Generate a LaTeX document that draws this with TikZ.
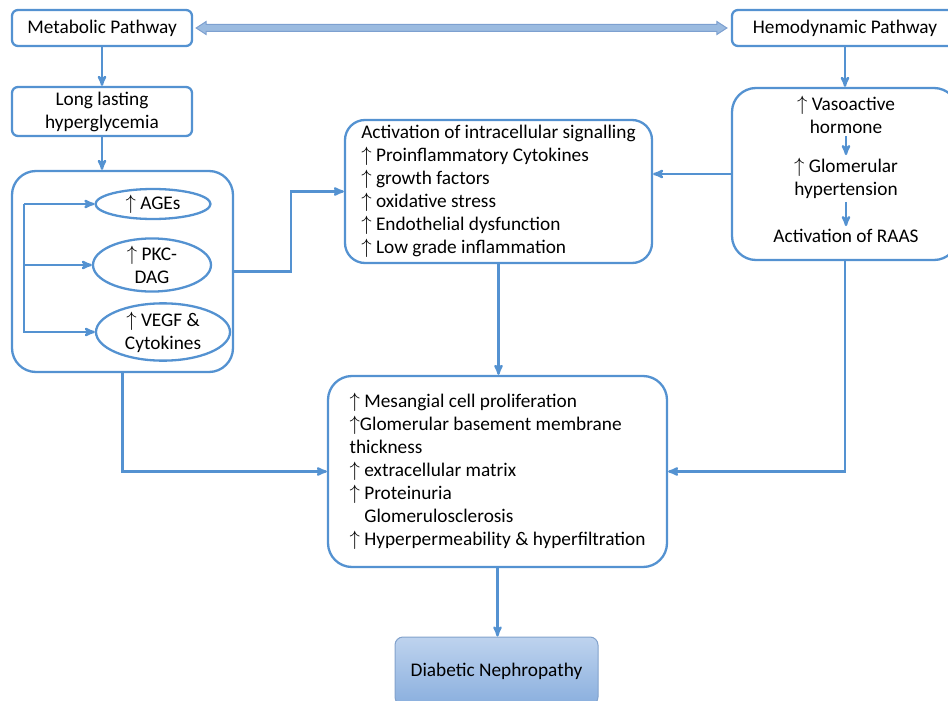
\documentclass[tikz,border=0pt]{standalone}
\usepackage{fontspec}
\setmainfont{Carlito}
\usepackage{tikz}
\usetikzlibrary{shapes,arrows,calc}
\definecolor{flowblue}{RGB}{84,146,209}
\definecolor{arrowfill}{RGB}{155,187,224}
\definecolor{arrowedge}{RGB}{125,160,208}
\definecolor{nephtop}{RGB}{190,211,238}
\definecolor{nephbot}{RGB}{138,175,222}
\definecolor{nephedge}{RGB}{130,162,204}
\newcommand{\incr}{$\uparrow$}

\begin{document}
\begin{tikzpicture}[x=1pt,y=-1pt,->,>=stealth',line width=2.3pt,color=flowblue,text=black,font=\fontsize{19.3}{23}\selectfont]
\tikzstyle{box}=[draw,rounded corners=6pt,align=center,inner sep=0pt]
\tikzstyle{bigbox}=[draw,rounded corners=24pt,inner sep=0pt]
\tikzstyle{oval}=[draw,ellipse,align=center,inner sep=0pt]
\tikzstyle{txt}=[inner sep=2pt,align=center]
\useasboundingbox (0,0) rectangle (948,701);
\node[box,minimum width=180pt,minimum height=36pt] (met) at (102,28) {Metabolic Pathway};
\node[box,minimum width=226pt,minimum height=36pt] (hem) at (845,28) {Hemodynamic Pathway};
\node[box,minimum width=180pt,minimum height=49pt] (long) at (102,111.5) {Long lasting\\hyperglycemia};
\node[bigbox,minimum width=221pt,minimum height=201pt] (mix) at (122.5,271.5) {};
\node[oval,minimum width=115pt,minimum height=30pt] (ages) at (153,204) {\incr\ AGEs};
\node[oval,minimum width=118pt,minimum height=44pt] (pkc) at (152,265) {\incr\ PKC-\\DAG};
\node[oval,minimum width=134pt,minimum height=49pt] (vegf) at (163,332) {\incr\ VEGF \&\\Cytokines};
\node[bigbox,minimum width=226pt,minimum height=172pt] (hemo) at (845,174) {};
\node[txt] (vaso) at (846,114.5) {\incr\ Vasoactive\\hormone};
\node[txt] (glom) at (846,178.5) {\incr\ Glomerular\\hypertension};
\node[txt] (raas) at (846,236) {Activation of RAAS};
\node[bigbox,rounded corners=20pt,minimum width=307pt,minimum height=143pt,align=left] (act) at (498.5,191.5)
  {Activation of intracellular signalling\\\incr\ Proinflammatory Cytokines\\\incr\ growth factors\\\incr\ oxidative stress\\\incr\ Endothelial dysfunction\\\incr\ Low grade inflammation};
\node[bigbox,minimum width=339pt,minimum height=191pt,align=left] (mes) at (497.5,471.5)
  {\incr\ Mesangial cell proliferation\\\incr Glomerular basement membrane\\thickness\\\incr\ extracellular matrix\\\incr\ Proteinuria\\\phantom{\incr\ }Glomerulosclerosis\\\incr\ Hyperpermeability \& hyperfiltration};
\node[draw=nephedge,line width=1pt,rounded corners=8pt,top color=nephtop,bottom color=nephbot,minimum width=203pt,minimum height=68pt] (dn) at (496.5,671) {Diabetic Nephropathy};
\coordinate (la) at ($(met.east)+(3,0)$);
\coordinate (ra) at ($(hem.west)+(-4,0)$);
\filldraw[-,fill=arrowfill,draw=arrowedge,line width=1pt] (la) -- ++(10,-6.5) -- ++(0,3) -- ($(ra)+(-10,-3.5)$) -- ++(0,-3) -- (ra) -- ++(-10,6.5) -- ++(0,-3) -- ($(la)+(10,3.5)$) -- ++(0,3) -- cycle;
\draw (met) -- (long);
\draw (long.south) -- (long.south |- mix.north);
\draw (hem) -- (hemo);
\coordinate (trunk) at (24,204);
\draw (trunk) -- (ages);
\draw (trunk) |- (pkc);
\draw (trunk) |- (vegf);
\draw (vaso) -- (glom);
\draw (glom) -- (raas);
\draw (mix.east) -- ++(57,0) |- (act.west);
\draw (hemo.west) -- (hemo.west -| act.east);
\draw (act.south) -- (act.south |- mes.north);
\draw (mix.south) |- (mes.west);
\draw (hemo.south) |- (mes.east);
\draw (mes.south) -- (mes.south |- dn.north);
\end{tikzpicture}
\end{document}
